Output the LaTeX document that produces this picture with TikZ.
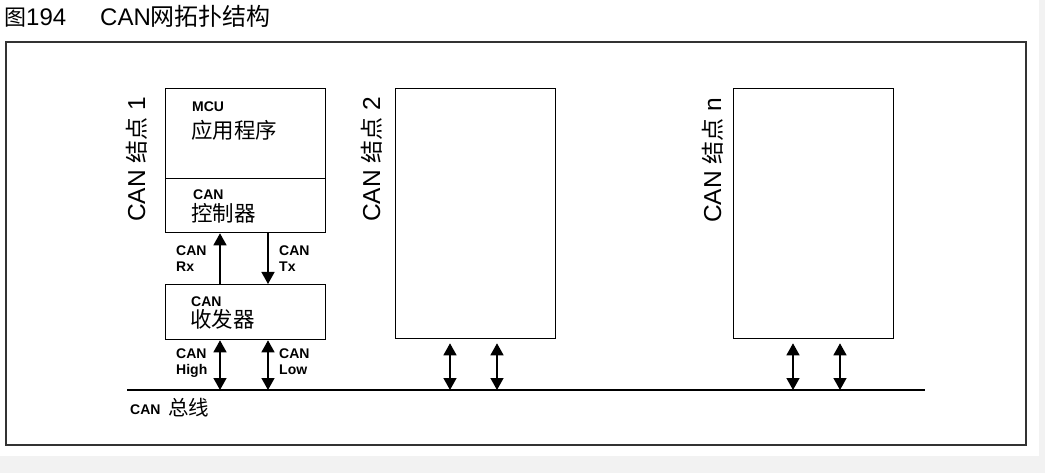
\documentclass[tikz,border=0pt]{standalone}
\usepackage{fontspec}
\setmainfont{Liberation Sans}
\newfontfamily\cjk{Noto Sans CJK SC}
\usetikzlibrary{arrows.meta}
\definecolor{pagegrey}{HTML}{F2F2F2}
\definecolor{framegrey}{HTML}{333333}
\tikzset{
  box/.style={draw=black, line width=1.3pt, anchor=north west, inner sep=0pt},
  lbl/.style={anchor=base west, inner sep=0pt, font=\fontsize{14}{16}\selectfont\bfseries},
  cn/.style={anchor=base west, inner sep=0pt, font=\fontsize{21.5}{24}\cjk},
  nodelbl/.style={rotate=90, anchor=base west, inner sep=0pt, font=\fontsize{24.5}{28}\selectfont},
  sig/.style={line width=1.4pt, -{Triangle[width=13pt,length=12pt]}},
  bidir/.style={line width=1.4pt, {Triangle[width=13pt,length=12pt]}-{Triangle[width=13pt,length=12pt]}},
}
\begin{document}
\begin{tikzpicture}[x=1pt,y=-1pt]
\useasboundingbox (0,0) rectangle (1045,473);
\fill[pagegrey] (0,0) rectangle (1045,473);
\fill[white] (0,0) rectangle (1039,456);
% title
\node[anchor=base west, inner sep=0pt] (title1) at (4,26) {{\fontsize{22}{24}\cjk 图}{\fontsize{24}{28}\selectfont 194}};
\node[anchor=base west, inner sep=0pt] (title2) at (100,26) {{\fontsize{24}{28}\selectfont CAN}{\fontsize{24}{26}\cjk 网拓扑结构}};
% frame
\draw[framegrey, line width=2pt] (6,42) rectangle (1026,445);
% node 1
\node[box, minimum width=160pt, minimum height=90pt] (mcu) at (165,88) {};
\node[box, minimum width=160pt, minimum height=54pt] (ctrl) at (165,178) {};
\node[box, minimum width=160pt, minimum height=55pt] (trx) at (165,284) {};
\node[lbl] (mcut) at (192,112) {MCU};
\node[cn] (app) at (191,139) {应用程序};
\node[lbl] (ctrlt) at (193,200) {CAN};
\node[cn] (ctrlc) at (191,222) {控制器};
\node[lbl] (trxt) at (191,307) {CAN};
\node[cn] (trxc) at (190,327) {收发器};
\node[nodelbl] (n1) at (145,222) {CAN {\cjk\fontsize{23}{26}\selectfont 结点} 1};
% node 2 and n
\node[box, minimum width=160pt, minimum height=250pt] (node2) at (395,88) {};
\node[nodelbl] (n2) at (380,222) {CAN {\cjk\fontsize{23}{26}\selectfont 结点} 2};
\node[box, minimum width=160pt, minimum height=250pt] (noden) at (733,88) {};
\node[nodelbl] (nn) at (721,223) {CAN {\cjk\fontsize{23}{26}\selectfont 结点} n};
% bus
\coordinate (busL) at (127,390);
\coordinate (busR) at (925,390);
\draw[line width=2.4pt] (busL) -- (busR);
\node[lbl] (bust) at (130,414) {CAN};
\node[cn, font=\fontsize{20.5}{24}\cjk] (busc) at (168,415) {总线};
% signal columns
\coordinate (c1) at (220,0);
\coordinate (c2) at (268,0);
\coordinate (c3) at (450,0);
\coordinate (c4) at (497,0);
\coordinate (c5) at (793,0);
\coordinate (c6) at (840,0);
\draw[sig] (trx.north -| c1) -- (ctrl.south -| c1);
\draw[sig] (ctrl.south -| c2) -- (trx.north -| c2);
\draw[bidir] (trx.south -| c1) -- (busL -| c1);
\draw[bidir] (trx.south -| c2) -- (busL -| c2);
\draw[bidir, shorten <=4pt] (node2.south -| c3) -- (busL -| c3);
\draw[bidir, shorten <=4pt] (node2.south -| c4) -- (busL -| c4);
\draw[bidir, shorten <=4pt] (noden.south -| c5) -- (busL -| c5);
\draw[bidir, shorten <=4pt] (noden.south -| c6) -- (busL -| c6);
% signal labels
\node[lbl] (rx1) at (176,256) {CAN};
\node[lbl] (rx2) at (176,272) {Rx};
\node[lbl] (tx1) at (279,256) {CAN};
\node[lbl] (tx2) at (279,272) {Tx};
\node[lbl] (hi1) at (176,358) {CAN};
\node[lbl] (hi2) at (176,374) {High};
\node[lbl] (lo1) at (279,358) {CAN};
\node[lbl] (lo2) at (279,374) {Low};
\end{tikzpicture}
\end{document}
